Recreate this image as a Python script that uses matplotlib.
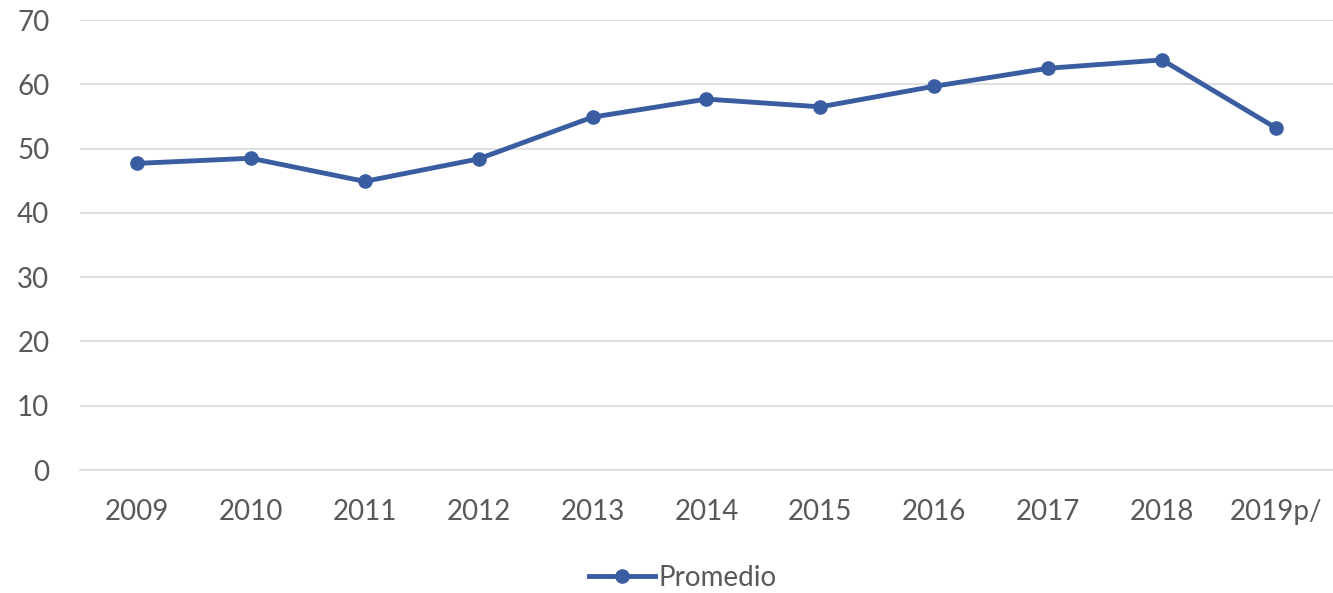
import matplotlib
matplotlib.use("Agg")
import matplotlib.pyplot as plt

years = ["2009", "2010", "2011", "2012", "2013", "2014", "2015", "2016", "2017", "2018", "2019p/"]
promedio = [47.7, 48.5, 44.9, 48.4, 54.9, 57.7, 56.5, 59.7, 62.5, 63.8, 53.2]
yticks = [0, 10, 20, 30, 40, 50, 60, 70]

plt.rcParams["font.family"] = ["Lato", "DejaVu Sans"]

fig = plt.figure(figsize=(13.33, 5.93), dpi=100)
ax = fig.add_axes([0.06, 0.2074, 0.94, 0.7588])

x = range(len(years))
line_color = "#3A5DA2"
ax.plot(x, promedio, color=line_color, lw=3.5, marker="o", ms=9.5, label="Promedio")

ax.set_xlim(-0.5, len(years) - 0.5)
ax.set_ylim(0, 70)
ax.set_yticks(yticks)
ax.set_xticks(list(x))
ax.set_xticklabels(years)
ax.grid(axis="y", color="#D9D9D9", lw=1.2)
ax.set_axisbelow(True)
for s in ["top", "right", "left"]:
    ax.spines[s].set_visible(False)
ax.spines["bottom"].set_color("#D9D9D9")
ax.spines["bottom"].set_linewidth(1.2)
ax.tick_params(axis="both", length=0, labelsize=20, colors="#595959")
ax.tick_params(axis="x", pad=21)
ax.tick_params(axis="y", pad=22)

leg = fig.legend(loc="center", bbox_to_anchor=(0.512, 0.025), frameon=False,
                 fontsize=20, handlelength=2.4, handletextpad=0.1)
for t in leg.get_texts():
    t.set_color("#595959")

fig.savefig("out.png", dpi=100)
